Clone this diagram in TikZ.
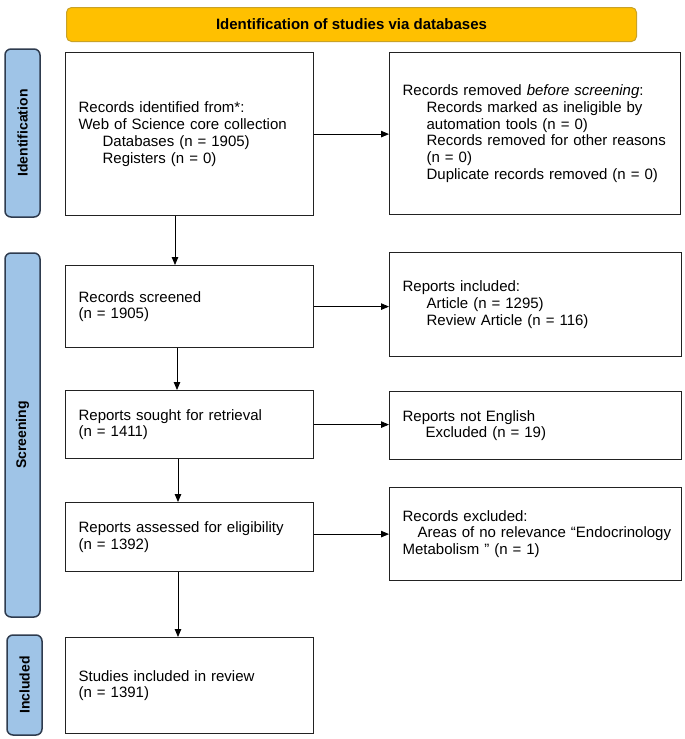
\documentclass[tikz,border=0pt]{standalone}
\usepackage{fontspec}
\setmainfont{Liberation Sans}
\usetikzlibrary{arrows.meta,calc}
\definecolor{bannerfill}{HTML}{FFC000}
\definecolor{bannerdraw}{HTML}{C9A227}
\definecolor{sidefill}{HTML}{9FC4E7}
\definecolor{sidedraw}{HTML}{2E3B4E}
\definecolor{boxdraw}{HTML}{222222}
\begin{document}
\begin{tikzpicture}[x=1pt,y=-1pt,
  txt/.style={font=\fontsize{15}{16.8}\selectfont},
  flowbox/.style={draw=boxdraw, line width=1.2pt, fill=white, anchor=north west,
    inner xsep=13pt, inner ysep=0pt, align=left, txt},
  sidebar/.style={draw=sidedraw, fill=sidefill, line width=1.5pt, rounded corners=6pt},
  sidetxt/.style={rotate=90, font=\fontsize{14}{16}\selectfont\bfseries},
  arr/.style={line width=0.8pt, -{Triangle[length=8pt,width=6.5pt]}}
]
\useasboundingbox (0,0) rectangle (685,739);

% banner
\node[draw=bannerdraw, fill=bannerfill, line width=1pt, rounded corners=5pt,
  minimum width=570pt, minimum height=34pt, anchor=north west,
  font=\fontsize{15}{17}\selectfont\bfseries] (banner) at (66,7)
  {Identification of studies via databases};

% side bars
\draw[sidebar] (5,49) rectangle (40,217);
\node[sidetxt] (sidid) at (22.5,133) {Identification};
\draw[sidebar] (5,253) rectangle (40,617);
\node[sidetxt] (sidscr) at (22.5,435) {Screening};
\draw[sidebar] (7,635) rectangle (42,735);
\node[sidetxt] (sidinc) at (24.5,685) {Included};

% boxes
\node[flowbox, text width=222pt, minimum height=163pt] (b1) at (65,52)
  {Records identified from*:\\
   Web of Science core collection\\
   \hspace*{24pt}Databases (n = 1905)\\
   \hspace*{24pt}Registers (n = 0)};
\node[flowbox, text width=265pt, minimum height=162pt] (b2) at (389,52)
  {Records removed \textit{before screening}:\\
   \hspace*{24pt}Records marked as ineligible by\\
   \hspace*{24pt}automation tools (n = 0)\\
   \hspace*{24pt}Records removed for other reasons\\
   \hspace*{24pt}(n = 0)\\
   \hspace*{24pt}Duplicate records removed (n = 0)};
\node[flowbox, text width=222pt, minimum height=82pt] (b3) at (65,265)
  {Records screened\\(n = 1905)};
\node[flowbox, text width=266pt, minimum height=104pt] (b5) at (389,252)
  {Reports included:\\
   \hspace*{24pt}Article (n = 1295)\\
   \hspace*{24pt}Review Article (n = 116)};
\node[flowbox, text width=222pt, minimum height=68pt] (b4) at (65,390)
  {Reports sought for retrieval\\(n = 1411)};
\node[flowbox, text width=266pt, minimum height=68pt] (b6) at (389,391)
  {Reports not English\\
   \hspace*{23pt}Excluded (n = 19)};
\node[flowbox, text width=222pt, minimum height=69pt] (b8) at (65,502)
  {Reports assessed for eligibility\\(n = 1392)};
\node[flowbox, text width=266pt, minimum height=93pt] (b7) at (389,487)
  {Records excluded:\\
   \mbox{\hspace*{15pt}Areas of no relevance “Endocrinology}\\
   Metabolism " (n = 1)};
\node[flowbox, text width=222pt, minimum height=96pt] (b9) at (65,637)
  {Studies included in review\\(n = 1391)};

% arrows
\coordinate (ax1) at (175,0);
\coordinate (ax2) at (177,0);
\coordinate (ax3) at (178,0);
\draw[arr] (b1.south -| ax1) -- (b3.north -| ax1);
\draw[arr] (b3.south -| ax2) -- (b4.north -| ax2);
\draw[arr] (b4.south -| ax3) -- (b8.north -| ax3);
\draw[arr] (b8.south -| ax3) -- (b9.north -| ax3);
\draw[arr] (b1.east) -- (b1.east -| b2.west);
\draw[arr] (b3.east) -- (b3.east -| b5.west);
\draw[arr] (b4.east) -- (b4.east -| b6.west);
\draw[arr] (b8.east |- b7.west) -- (b7.west);
\end{tikzpicture}
\end{document}
